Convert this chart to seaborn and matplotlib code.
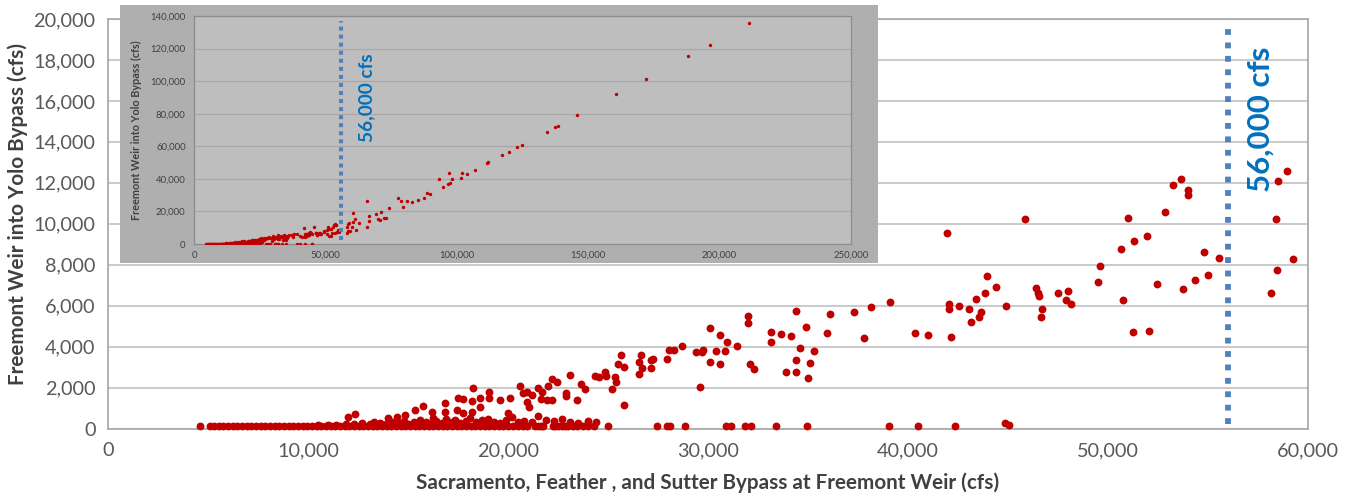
import matplotlib
matplotlib.use("Agg")
import matplotlib.pyplot as plt
import matplotlib.ticker as mticker
import pandas as pd
import seaborn as sns

# Days with no spill over the weir (flow at Freemont Weir, cfs)
zero_flow = [4600, 5100, 5300, 5550, 5750, 6000, 6250, 6450, 6700, 6950,
             7150, 7400, 7650, 7850, 8100, 8350, 8550, 8800, 9050, 9250,
             9500, 9750, 9950, 10200, 10450, 10650, 10900, 11150, 11350, 11600,
             11850, 12050, 12300, 12550, 12750, 13000, 13250, 13450, 13700, 13950,
             14150, 14400, 14650, 14850, 15100, 15350, 15550, 15800, 16050, 16250,
             16500, 16750, 16950, 17200, 17450, 17650, 17900, 18150, 18350, 18600,
             18850, 19050, 19300, 19550, 19750, 20000, 20250, 20500, 20750, 20950,
             21350, 21500, 21650, 21750, 22250, 22350, 22500, 22700, 22850, 23000,
             23250, 23450, 23750, 24000, 24300, 25000, 27450, 27950, 28100, 28850,
             30900, 31150, 31850, 32150, 33400, 34950, 39050, 40500, 42350, 44850,
             45050]
zero_weir = [100, 100, 100, 100, 100, 100, 100, 100, 100, 100,
             100, 100, 100, 100, 100, 100, 100, 100, 100, 100,
             100, 100, 100, 100, 100, 100, 100, 100, 100, 100,
             100, 100, 100, 100, 100, 100, 100, 100, 100, 100,
             100, 100, 100, 100, 100, 100, 100, 100, 100, 100,
             100, 100, 100, 100, 100, 100, 100, 100, 100, 100,
             100, 100, 100, 100, 100, 100, 100, 100, 100, 100,
             100, 100, 100, 100, 100, 100, 100, 100, 100, 100,
             100, 100, 100, 100, 100, 100, 100, 100, 100, 140,
             100, 100, 100, 100, 100, 100, 100, 100, 100, 250,
             150]

# Small spills just above zero
low_flow = [10500, 11000, 11400, 11900, 12300, 12700, 13100, 13300, 13600, 13900,
            14200, 14500, 14800, 15000, 15300, 15600, 15900, 16100, 16400, 16700,
            16900, 17200, 17600, 17900, 18100, 18400, 18800, 19000, 19300, 19600,
            19900, 20200, 20500, 20800, 21200, 21500, 21900, 22300, 22700, 23100,
            23500, 24000, 24400]
low_weir = [150, 180, 160, 220, 200, 260, 230, 310, 250, 200,
            340, 280, 380, 240, 320, 420, 300, 220, 360, 260,
            450, 330, 280, 380, 520, 300, 260, 450, 340, 280,
            400, 560, 320, 380, 300, 620, 420, 350, 480, 300,
            250, 380, 300]

# Spill days up to 60,000 cfs
spill_flow = [12000, 12350, 14000, 14450, 14850, 15350, 15750, 16200, 16850, 16850,
              17450, 17500, 17750, 18200, 18250, 18600, 18200, 18600, 19050, 19050,
              19600, 20100, 20000, 20600, 20750, 20950, 21200, 20950, 21050, 17750,
              17350, 18700, 16250, 21500, 21700, 21650, 21950, 22200, 22000, 22200,
              22450, 22900, 22900, 23100, 23450, 23650, 23850, 24350, 24550, 24850,
              24900, 25200, 25350, 25400, 25500, 25650, 25800, 25800, 26550, 26550,
              26650, 26700, 27150, 27150, 27250, 27950, 28050, 28300, 28700, 29400,
              29600, 29700, 29750, 30100, 30100, 30400, 30600, 30600, 30850, 30950,
              31450, 32000, 32000, 32100, 32300, 33150, 33150, 33650, 34150, 34400,
              34900, 34600, 35300, 34400, 35100, 33900, 34400, 35000, 35950, 36100,
              37300, 37800, 38150, 39100, 40350, 41000, 41950, 42050, 42050, 42150,
              42550, 43050, 43400, 43150, 43550, 43650, 43850, 43950, 44400, 44900,
              45850, 46400, 46500, 46550, 46700, 46650, 47500, 47900, 48000, 48150,
              49500, 49600, 50650, 50750, 51000, 51250, 51300, 51950, 52050, 52450,
              52850, 53250, 53650, 54000, 54000, 53750, 54350, 54800, 55000, 55550,
              58150, 58450, 58400, 58500, 58950, 59250]
spill_weir = [580, 690, 500, 580, 660, 900, 1100, 820, 1260, 820,
              900, 1470, 1430, 1340, 1960, 1500, 820, 1060, 1800, 1470,
              1390, 1470, 770, 2070, 1720, 1770, 1640, 1300, 1060, 740,
              420, 420, 500, 1960, 1800, 1430, 1390, 1390, 2070, 2420,
              2270, 1750, 1590, 2610, 1390, 2160, 1930, 2580, 2500, 2770,
              2580, 1910, 2530, 2270, 3150, 3590, 3020, 1150, 2660, 3260,
              3590, 2970, 2970, 3340, 3380, 3380, 3830, 3830, 4040, 3720,
              2040, 3720, 3830, 4920, 3260, 3800, 4560, 3150, 3800, 4240,
              4040, 5500, 5160, 3150, 2920, 4720, 4240, 4600, 4510, 5720,
              4970, 3910, 3800, 3340, 3180, 2740, 2770, 2450, 4680, 5590,
              5690, 4430, 5930, 6170, 4660, 4560, 9560, 6090, 5820, 4470,
              5990, 5850, 6330, 5180, 5430, 5670, 6600, 7440, 6920, 5990,
              10210, 6840, 6600, 6470, 5820, 5430, 6600, 6270, 6710, 6080,
              7160, 7930, 8790, 6270, 10290, 4720, 9150, 9410, 4760, 7050,
              10580, 11880, 12180, 11670, 11400, 6790, 7230, 8600, 7490, 8340,
              6610, 7750, 10220, 12090, 12600, 8270]

# Flood days above 60,000 cfs (only in the inset)
high_flow = [60300, 60600, 60600, 61300, 61600, 62900, 65950, 65950, 66700, 66700,
             69100, 70100, 70800, 71000, 72300, 73100, 74200, 77500, 78650, 79650,
             80900, 83100, 85350, 87500, 88500, 89800, 93200, 94900, 96800, 97400,
             97150, 98100, 101500, 102100, 104000, 106900, 111400, 112000, 117100, 119900,
             122800, 124700, 134200, 137400, 138600, 145900, 160600, 171900, 187900, 196200,
             211300]
high_weir = [10600, 19200, 13700, 15200, 8600, 13100, 26400, 10250, 17400, 14100,
             18400, 15200, 14700, 19800, 15800, 16150, 22300, 28400, 26400, 22500,
             26400, 25600, 27000, 28400, 31500, 30700, 39700, 34800, 36700, 37300,
             43800, 39700, 40300, 43800, 43000, 45400, 49600, 50500, 54700, 56500,
             59400, 60800, 69000, 71800, 72700, 79200, 91900, 101300, 115400, 122400,
             135500]

THRESHOLD = 56000

main_df = pd.DataFrame({"flow": zero_flow + low_flow + spill_flow,
                        "weir": zero_weir + low_weir + spill_weir})
all_df = pd.concat([main_df, pd.DataFrame({"flow": high_flow, "weir": high_weir})])

sns.set_theme(style="white")
plt.rcParams["font.family"] = ["Lato", "DejaVu Sans"]

W, H = 1354, 501
fig = plt.figure(figsize=(W / 100, H / 100), dpi=100)
comma = mticker.FuncFormatter(lambda v, p: f"{v:,.0f}")

# Main chart
ax = fig.add_axes([108 / W, 1 - 428.5 / H, 1200 / W, 409.5 / H])
sns.scatterplot(data=main_df, x="flow", y="weir", ax=ax, color="#c00000",
                s=32, linewidth=0, zorder=3, clip_on=False)
ax.set_xlim(0, 60000)
ax.set_ylim(0, 20000)
ax.xaxis.set_major_locator(mticker.MultipleLocator(10000))
ax.yaxis.set_major_locator(mticker.MultipleLocator(2000))
ax.xaxis.set_major_formatter(comma)
ax.yaxis.set_major_formatter(comma)
ax.grid(axis="y", color="#c6c6c6", lw=1.3)
for sp in ax.spines.values():
    sp.set_color("#a6a6a6")
    sp.set_linewidth(1.2)
ax.tick_params(axis="both", length=5, width=1, color="#a6a6a6",
               labelsize=14.3, labelcolor="#595959")
ax.tick_params(axis="x", pad=5)
ax.tick_params(axis="y", pad=4)
ax.set_xlabel("")
ax.set_ylabel("")
ax.axvline(THRESHOLD, ymin=0.01, ymax=0.985, color="#4f81bd", lw=4.2,
           linestyle=(0, (1, 1.3)), zorder=4)
ax.text(57650, 18650, "56,000 cfs", rotation=90, ha="center", va="top",
        color="#0070c0", fontsize=22.5, fontweight="bold")

fig.text(708 / W, 1 - 483 / H, "Sacramento, Feather , and Sutter Bypass at Freemont Weir (cfs)",
         ha="center", va="center", fontsize=14.9, fontweight="bold", color="#404040")
fig.text(18 / W, 1 - 214 / H, "Freemont Weir into Yolo Bypass (cfs)", rotation=90,
         ha="center", va="center", fontsize=14.9, fontweight="bold", color="#404040")

# Inset: full record
frame = fig.add_axes([120 / W, 1 - 263 / H, 758 / W, 258 / H])
frame.set_facecolor("#afafaf")
frame.set_xticks([])
frame.set_yticks([])
for sp in frame.spines.values():
    sp.set_visible(False)

inset = fig.add_axes([194 / W, 1 - 244 / H, 657 / W, 228 / H])
inset.set_facecolor("#bebebe")
sns.scatterplot(data=all_df, x="flow", y="weir", ax=inset, color="#c00000",
                s=6, linewidth=0, zorder=3)
inset.set_xlim(0, 250000)
inset.set_ylim(0, 140000)
inset.xaxis.set_major_locator(mticker.MultipleLocator(50000))
inset.yaxis.set_major_locator(mticker.MultipleLocator(20000))
inset.xaxis.set_major_formatter(comma)
inset.yaxis.set_major_formatter(comma)
inset.grid(axis="y", color="#a8a8a8", lw=0.9)
for sp in inset.spines.values():
    sp.set_color("#8c8c8c")
    sp.set_linewidth(0.9)
inset.tick_params(axis="both", length=0, labelsize=6.9, labelcolor="#404040")
inset.tick_params(axis="x", pad=5)
inset.tick_params(axis="y", pad=6)
inset.set_xlabel("")
inset.set_ylabel("")
inset.axvline(THRESHOLD, ymin=0.018, ymax=0.98, color="#4f81bd", lw=2.9,
              linestyle=(0, (1, 1)), zorder=4)
inset.text(65800, 117000, "56,000 cfs", rotation=90, ha="center", va="top",
           color="#0070c0", fontsize=13.7, fontweight="bold")
fig.text(136 / W, 1 - 130 / H, "Freemont Weir into Yolo Bypass (cfs)", rotation=90,
         ha="center", va="center", fontsize=7.8, fontweight="bold", color="#404040")

fig.savefig("out.png", dpi=100)
